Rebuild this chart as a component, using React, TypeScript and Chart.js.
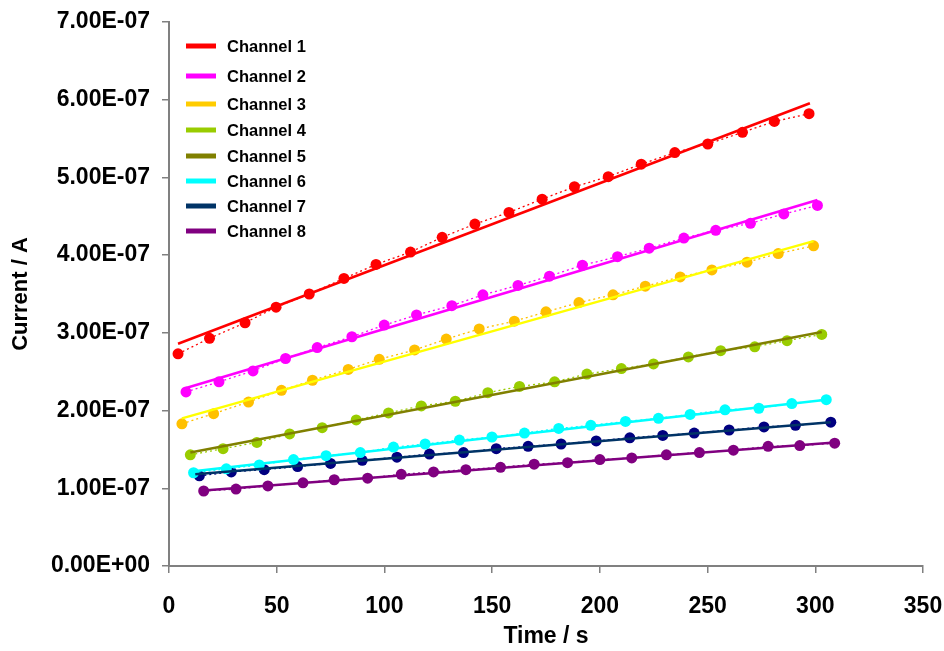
import React, { useEffect, useRef } from "react";
import { Chart, registerables } from "chart.js";

Chart.register(...registerables);

// ---- Data (time in s, current in A) ----
const ch1Time = [4.2, 18.8, 35.3, 49.7, 65.1, 81.2, 96.1, 112.1, 126.8, 142, 157.8, 173.2, 188.2, 203.9, 219.2, 234.8, 250.1, 266.2, 281, 297.1];
const ch1Current = [2.73e-7, 2.93e-7, 3.13e-7, 3.33e-7, 3.5e-7, 3.7e-7, 3.88e-7, 4.04e-7, 4.23e-7, 4.4e-7, 4.55e-7, 4.72e-7, 4.88e-7, 5.01e-7, 5.17e-7, 5.32e-7, 5.43e-7, 5.58e-7, 5.72e-7, 5.82e-7];
const ch1TrendTime = [4.2, 297.5];
const ch1TrendCurrent = [2.86e-7, 5.955e-7];

const ch2Time = [7.9, 23.2, 39, 54.1, 68.8, 84.9, 99.9, 114.9, 131.3, 145.7, 162, 176.6, 191.9, 208.2, 222.9, 239, 253.8, 269.9, 285.4, 301];
const ch2Current = [2.24e-7, 2.37e-7, 2.51e-7, 2.67e-7, 2.81e-7, 2.95e-7, 3.1e-7, 3.23e-7, 3.35e-7, 3.49e-7, 3.61e-7, 3.73e-7, 3.87e-7, 3.98e-7, 4.09e-7, 4.22e-7, 4.32e-7, 4.41e-7, 4.53e-7, 4.64e-7];
const ch2TrendTime = [7.9, 301];
const ch2TrendCurrent = [2.29e-7, 4.71e-7];

const ch3Time = [6.0, 20.7, 36.9, 52.2, 66.6, 83.2, 97.6, 114, 128.7, 144, 160.3, 175, 190.3, 206.1, 221.1, 237.3, 252, 268.3, 282.8, 299.2];
const ch3Current = [1.83e-7, 1.96e-7, 2.11e-7, 2.26e-7, 2.39e-7, 2.53e-7, 2.66e-7, 2.78e-7, 2.92e-7, 3.05e-7, 3.15e-7, 3.27e-7, 3.39e-7, 3.49e-7, 3.6e-7, 3.72e-7, 3.81e-7, 3.91e-7, 4.02e-7, 4.12e-7];
const ch3TrendTime = [6.0, 299.2];
const ch3TrendCurrent = [1.9e-7, 4.18e-7];

const ch4Time = [9.9, 25.1, 40.8, 56, 71.1, 86.9, 101.9, 117.1, 132.9, 148, 162.7, 179, 194, 210, 224.9, 241.1, 256.1, 271.9, 286.9, 303];
const ch4Current = [1.43e-7, 1.51e-7, 1.59e-7, 1.7e-7, 1.78e-7, 1.88e-7, 1.97e-7, 2.06e-7, 2.12e-7, 2.23e-7, 2.31e-7, 2.37e-7, 2.47e-7, 2.54e-7, 2.6e-7, 2.69e-7, 2.77e-7, 2.82e-7, 2.9e-7, 2.98e-7];
const ch5TrendTime = [9.9, 303];
const ch5TrendCurrent = [1.46e-7, 3.01e-7];

const ch6Time = [11.4, 26.6, 41.9, 57.8, 72.9, 88.8, 104.2, 118.9, 134.8, 149.9, 165, 180.9, 195.8, 211.9, 227.2, 241.9, 258.1, 273.8, 289.1, 305.1];
const ch6Current = [1.2e-7, 1.25e-7, 1.3e-7, 1.37e-7, 1.42e-7, 1.46e-7, 1.53e-7, 1.57e-7, 1.62e-7, 1.66e-7, 1.71e-7, 1.77e-7, 1.81e-7, 1.86e-7, 1.9e-7, 1.95e-7, 2.01e-7, 2.03e-7, 2.09e-7, 2.14e-7];
const ch6TrendTime = [11.4, 305.1];
const ch6TrendCurrent = [1.22e-7, 2.14e-7];

const ch7Time = [14.1, 28.9, 44.2, 59.7, 75, 89.7, 105.8, 120.9, 136.7, 151.9, 166.7, 182, 198.3, 213.9, 229.2, 243.8, 260, 276.2, 290.8, 307.2];
const ch7Current = [1.16e-7, 1.21e-7, 1.24e-7, 1.28e-7, 1.32e-7, 1.36e-7, 1.4e-7, 1.44e-7, 1.46e-7, 1.51e-7, 1.54e-7, 1.57e-7, 1.61e-7, 1.65e-7, 1.68e-7, 1.71e-7, 1.75e-7, 1.79e-7, 1.81e-7, 1.85e-7];
const ch7TrendTime = [12.2, 307.2];
const ch7TrendCurrent = [1.18e-7, 1.85e-7];

const ch8Time = [16.1, 31.1, 45.9, 62.2, 76.7, 92.2, 107.8, 122.8, 137.8, 153.9, 169.5, 185, 200, 214.8, 230.9, 246.2, 262, 278.1, 292.8, 309];
const ch8Current = [0.965e-7, 0.99e-7, 1.03e-7, 1.07e-7, 1.11e-7, 1.13e-7, 1.18e-7, 1.21e-7, 1.24e-7, 1.27e-7, 1.31e-7, 1.33e-7, 1.37e-7, 1.39e-7, 1.43e-7, 1.46e-7, 1.49e-7, 1.54e-7, 1.55e-7, 1.58e-7];
const ch8TrendTime = [16.1, 309];
const ch8TrendCurrent = [0.97e-7, 1.59e-7];

const legendLabels = ["Channel 1", "Channel 2", "Channel 3", "Channel 4", "Channel 5", "Channel 6", "Channel 7", "Channel 8"];

const xTicks = [0, 50, 100, 150, 200, 250, 300, 350];
const yTicks = [0, 1e-7, 2e-7, 3e-7, 4e-7, 5e-7, 6e-7, 7e-7];

// ---- Styles ----
const legendColors = ["#FF0000", "#FF00FF", "#FFCC00", "#99CC00", "#808000", "#00FFFF", "#003366", "#800080"];
const legendRowY = [46, 76, 104, 130, 156, 181, 206, 231];
const FONT = "'Liberation Sans', Arial, sans-serif";

const pts = (t: number[], v: number[]) => t.map((x, i) => ({ x, y: v[i] }));

const fmtExp = (v: number) => {
  const s = Number(v).toExponential(2);
  const [m, e] = s.split("e");
  const sign = e.startsWith("-") ? "-" : "+";
  const digits = e.replace(/^[+-]/, "").padStart(2, "0");
  return `${m}E${sign}${digits}`;
};

const legendPlugin = {
  id: "insideLegend",
  afterDraw(chart: any) {
    const ctx = chart.ctx;
    ctx.save();
    legendLabels.forEach((label, i) => {
      const y = legendRowY[i];
      ctx.strokeStyle = legendColors[i];
      ctx.lineWidth = 5;
      ctx.beginPath();
      ctx.moveTo(186, y);
      ctx.lineTo(216, y);
      ctx.stroke();
      ctx.fillStyle = "#000";
      ctx.font = `bold 16.5px ${FONT}`;
      ctx.textBaseline = "middle";
      ctx.textAlign = "left";
      ctx.fillText(label, 227, y + 1);
    });
    ctx.restore();
  },
};

function pointSet(t: number[], v: number[], color: string) {
  return {
    data: pts(t, v),
    showLine: true,
    borderColor: color,
    backgroundColor: color,
    borderWidth: 1.3,
    borderDash: [2, 3],
    pointRadius: 5.5,
    pointBorderWidth: 0,
    pointBackgroundColor: color,
    order: 2,
  };
}

function trendSet(t: number[], v: number[], color: string) {
  return {
    data: pts(t, v),
    showLine: true,
    borderColor: color,
    backgroundColor: color,
    borderWidth: 2.5,
    pointRadius: 0,
    order: 1,
  };
}

export default function App() {
  const ref = useRef<HTMLCanvasElement | null>(null);

  useEffect(() => {
    if (!ref.current) return;
    const chart = new Chart(ref.current, {
      type: "scatter",
      data: {
        datasets: [
          pointSet(ch1Time, ch1Current, "#FF0000"),
          trendSet(ch1TrendTime, ch1TrendCurrent, "#FF0000"),
          pointSet(ch2Time, ch2Current, "#FF00FF"),
          trendSet(ch2TrendTime, ch2TrendCurrent, "#FF00FF"),
          pointSet(ch3Time, ch3Current, "#FFC000"),
          trendSet(ch3TrendTime, ch3TrendCurrent, "#FFFF00"),
          pointSet(ch4Time, ch4Current, "#99CC00"),
          trendSet(ch5TrendTime, ch5TrendCurrent, "#808000"),
          pointSet(ch6Time, ch6Current, "#00FFFF"),
          trendSet(ch6TrendTime, ch6TrendCurrent, "#00FFFF"),
          pointSet(ch7Time, ch7Current, "#000080"),
          trendSet(ch7TrendTime, ch7TrendCurrent, "#003366"),
          pointSet(ch8Time, ch8Current, "#800080"),
          trendSet(ch8TrendTime, ch8TrendCurrent, "#800080"),
        ] as any,
      },
      options: {
        animation: false,
        responsive: false,
        devicePixelRatio: 1,
        layout: { padding: { top: 22, right: 21, left: 0, bottom: 0 } },
        plugins: {
          legend: { display: false },
          tooltip: { enabled: false },
        },
        scales: {
          x: {
            type: "linear",
            min: xTicks[0],
            max: xTicks[xTicks.length - 1],
            afterBuildTicks: (s: any) => {
              s.ticks = xTicks.map((value) => ({ value }));
            },
            afterFit: (s: any) => {
              s.height = 85;
              s.paddingLeft = 0;
              s.paddingRight = 0;
            },
            border: { display: true, color: "#808080", width: 2 },
            grid: { drawOnChartArea: false, drawTicks: true, tickLength: 7, color: "#808080", lineWidth: 1.5 },
            ticks: {
              color: "#000",
              padding: 20,
              maxRotation: 0,
              font: { family: FONT, size: 23, weight: "bold" },
            },
            title: {
              display: true,
              text: "Time / s",
              color: "#000",
              padding: { top: 0, bottom: 1 },
              font: { family: FONT, size: 23, weight: "bold" },
            },
          },
          y: {
            type: "linear",
            min: yTicks[0],
            max: yTicks[yTicks.length - 1],
            afterBuildTicks: (s: any) => {
              s.ticks = yTicks.map((value) => ({ value }));
            },
            afterFit: (s: any) => {
              s.width = 169;
              s.paddingTop = 0;
              s.paddingBottom = 0;
            },
            border: { display: true, color: "#808080", width: 2 },
            grid: { drawOnChartArea: false, drawTicks: true, tickLength: 7, color: "#808080", lineWidth: 1.5 },
            ticks: {
              color: "#000",
              padding: 12,
              font: { family: FONT, size: 23, weight: "bold" },
              callback: (v: any) => fmtExp(Number(v)),
            },
            title: {
              display: true,
              text: "Current / A",
              color: "#000",
              padding: { top: 8, bottom: 0 },
              font: { family: FONT, size: 22, weight: "bold" },
            },
          },
        },
      } as any,
      plugins: [legendPlugin],
    });
    return () => chart.destroy();
  }, []);

  return (
    <div style={{ position: "fixed", left: 0, top: 0, width: 944, height: 651, background: "#fff" }}>
      <canvas ref={ref} width={944} height={651} style={{ width: 944, height: 651, display: "block" }} />
    </div>
  );
}
